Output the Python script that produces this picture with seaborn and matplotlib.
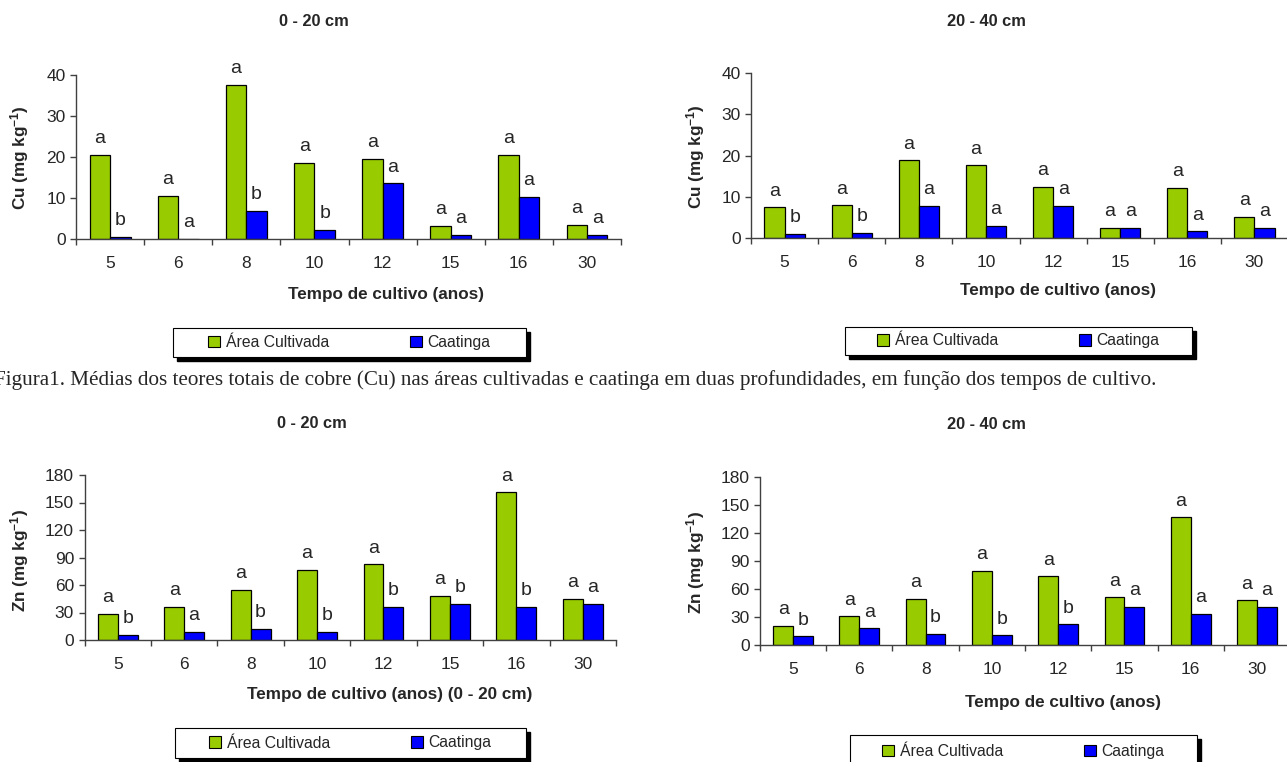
import numpy as np
import pandas as pd
import matplotlib
matplotlib.use("Agg")
import matplotlib.pyplot as plt
import seaborn as sns
from matplotlib.patches import Rectangle

# ── Data ──────────────────────────────────────────────────
years = ["5", "6", "8", "10", "12", "15", "16", "30"]
series_names = ["Área Cultivada", "Caatinga"]
colors = ["#99CC00", "#0000FF"]

cu_cult_0_20 = [20.6, 10.6, 37.7, 18.7, 19.6, 3.2, 20.6, 3.4]
cu_caat_0_20 = [0.6, 0.0, 6.8, 2.3, 13.6, 1.0, 10.3, 1.0]
cu_cult_let_0_20 = ["a", "a", "a", "a", "a", "a", "a", "a"]
cu_caat_let_0_20 = ["b", "a", "b", "b", "a", "a", "a", "a"]

cu_cult_20_40 = [7.4, 7.9, 18.8, 17.6, 12.4, 2.5, 12.1, 5.1]
cu_caat_20_40 = [1.0, 1.3, 7.7, 2.9, 7.7, 2.5, 1.6, 2.5]
cu_cult_let_20_40 = ["a", "a", "a", "a", "a", "a", "a", "a"]
cu_caat_let_20_40 = ["b", "b", "a", "a", "a", "a", "a", "a"]

zn_cult_0_20 = [28.8, 35.7, 54.7, 76.2, 82.4, 47.7, 161.1, 44.8]
zn_caat_0_20 = [5.8, 9.1, 12.0, 9.1, 36.1, 39.0, 36.1, 39.0]
zn_cult_let_0_20 = ["a", "a", "a", "a", "a", "a", "a", "a"]
zn_caat_let_0_20 = ["b", "a", "b", "b", "b", "b", "b", "a"]

zn_cult_20_40 = [20.3, 30.6, 49.2, 79.5, 73.4, 51.0, 136.8, 47.8]
zn_caat_20_40 = [9.3, 17.8, 11.8, 10.3, 22.1, 40.6, 33.5, 40.6]
zn_cult_let_20_40 = ["a", "a", "a", "a", "a", "a", "a", "a"]
zn_caat_let_20_40 = ["b", "a", "b", "b", "b", "a", "a", "a"]

cu_ticks = [0, 10, 20, 30, 40]
zn_ticks = [0, 30, 60, 90, 120, 150, 180]

caption = ("Figura1. Médias dos teores totais de cobre (Cu) nas áreas cultivadas e "
           "caatinga em duas profundidades, em função dos tempos de cultivo.")

# ── Style ─────────────────────────────────────────────────
sns.set_style("ticks")
plt.rcParams["font.family"] = ["Liberation Sans", "DejaVu Sans"]
plt.rcParams["mathtext.default"] = "regular"

W, H = 1287, 762
fig = plt.figure(figsize=(W / 100, H / 100), dpi=100)
fig.patch.set_facecolor("white")

AX_COL = "#404040"
TICK_FS = 12.5
LABEL_FS = 12.3
LETTER_FS = 14
LEGEND_FS = 11.3


def fx(x):
    return x / W


def fy(y):
    return 1 - y / H


def draw_panel(box, cult, caat, cult_let, caat_let, yticks, ylabel, ylabel_xy,
               title, title_xy, xlabel, xlabel_xy):
    x0, y0, x1, y1 = box   # pixel box: left, top, right, bottom
    ax = fig.add_axes([fx(x0), fy(y1), (x1 - x0) / W, (y1 - y0) / H])
    df = pd.DataFrame({
        "ano": years * 2,
        "valor": list(cult) + list(caat),
        "area": [series_names[0]] * len(years) + [series_names[1]] * len(years),
    })
    sns.barplot(data=df, x="ano", y="valor", hue="area", order=years,
                hue_order=series_names, palette=colors, saturation=1,
                width=0.6, edgecolor="black", linewidth=0.9, ax=ax)
    handles, labels = ax.get_legend_handles_labels()
    if ax.legend_ is not None:
        ax.legend_.remove()

    # significance letters above each bar
    for cont, lets in zip(ax.containers, [cult_let, caat_let]):
        for bar, let in zip(cont, lets):
            ax.annotate(let, (bar.get_x() + bar.get_width() / 2, bar.get_height()),
                        xytext=(0, 8.5), textcoords="offset points",
                        ha="center", va="baseline", fontsize=LETTER_FS, clip_on=False)

    ax.set_xlim(-0.5, len(years) - 0.5)
    ax.set_ylim(yticks[0], yticks[-1])
    ax.set_yticks(yticks)
    sns.despine(ax=ax)
    for s in ["left", "bottom"]:
        ax.spines[s].set_color(AX_COL)
        ax.spines[s].set_linewidth(1.0)
    ax.set_xticks(np.arange(-0.5, len(years), 1), minor=True)
    ax.tick_params(axis="x", which="major", length=0, pad=12.5, labelsize=TICK_FS)
    ax.tick_params(axis="x", which="minor", length=4, color=AX_COL, width=1.0)
    ax.tick_params(axis="y", length=4, pad=3.5, labelsize=TICK_FS, color=AX_COL, width=1.0)

    ax.set_ylabel(ylabel, fontsize=LABEL_FS, fontweight="bold")
    ax.yaxis.set_label_coords(fx(ylabel_xy[0]), fy(ylabel_xy[1]), transform=fig.transFigure)
    ax.set_xlabel(xlabel, fontsize=LABEL_FS, fontweight="bold")
    ax.xaxis.set_label_coords(fx(xlabel_xy[0]), fy(xlabel_xy[1]), transform=fig.transFigure)
    ax.xaxis.label.set_va("center")
    ax.yaxis.label.set_va("center")

    fig.text(fx(title_xy[0]), fy(title_xy[1]), title, ha="center", va="center",
             fontsize=11.8, fontweight="bold")
    return handles, labels


def draw_legend(handles, labels, box):
    x0, y0, x1, y1 = box
    # black drop shadow, then white box
    fig.patches.append(Rectangle((fx(x0 + 4), fy(y1 + 4)), (x1 - x0) / W, (y1 - y0) / H,
                                 transform=fig.transFigure, facecolor="black",
                                 edgecolor="black", zorder=1))
    fig.patches.append(Rectangle((fx(x0), fy(y1)), (x1 - x0) / W, (y1 - y0) / H,
                                 transform=fig.transFigure, facecolor="white",
                                 edgecolor="black", linewidth=0.8, zorder=2))
    for h in handles:
        h.set_edgecolor("black")
        h.set_linewidth(0.8)
    leg = fig.legend(handles, labels, loc="center",
                     bbox_to_anchor=(fx((x0 + x1) / 2), fy((y0 + y1) / 2)),
                     ncol=2, frameon=False, fontsize=LEGEND_FS, handlelength=0.75,
                     handleheight=0.75, handletextpad=0.35, columnspacing=5.2,
                     borderpad=0, borderaxespad=0)
    leg.set_zorder(3)


# ── 1. Cu 0-20 cm ─────────────────────────────────────────
h, l = draw_panel((76, 75.5, 621, 239), cu_cult_0_20, cu_caat_0_20,
                  cu_cult_let_0_20, cu_caat_let_0_20, cu_ticks,
                  "Cu (mg kg$^{-1}$)", (20, 158), "0 - 20 cm", (314, 22),
                  "Tempo de cultivo (anos)", (386, 295))
draw_legend(h, l, (173, 328, 526, 357))

# ── 2. Cu 20-40 cm ────────────────────────────────────────
h, l = draw_panel((751, 73, 1288, 238), cu_cult_20_40, cu_caat_20_40,
                  cu_cult_let_20_40, cu_caat_let_20_40, cu_ticks,
                  "Cu (mg kg$^{-1}$)", (696, 157), "20 - 40 cm", (986, 22),
                  "Tempo de cultivo (anos)", (1058, 290))
draw_legend(h, l, (845, 327, 1192, 355))

# ── 3. Zn 0-20 cm ─────────────────────────────────────────
h, l = draw_panel((84.5, 475, 616, 640), zn_cult_0_20, zn_caat_0_20,
                  zn_cult_let_0_20, zn_caat_let_0_20, zn_ticks,
                  "Zn (mg kg$^{-1}$)", (20, 561), "0 - 20 cm", (312, 423),
                  "Tempo de cultivo (anos) (0 - 20 cm)", (390, 695))
draw_legend(h, l, (175, 728, 526, 758))

# ── 4. Zn 20-40 cm ────────────────────────────────────────
h, l = draw_panel((760, 477, 1290, 645), zn_cult_20_40, zn_caat_20_40,
                  zn_cult_let_20_40, zn_caat_let_20_40, zn_ticks,
                  "Zn (mg kg$^{-1}$)", (696, 563), "20 - 40 cm", (986, 424),
                  "Tempo de cultivo (anos)", (1063, 702))
draw_legend(h, l, (850, 735, 1197, 768))

# ── Caption ──────────────────────────────────────────────
fig.text(fx(-6), fy(380), caption, ha="left", va="center", fontsize=15.2,
         family=["Liberation Serif", "DejaVu Serif"])

fig.savefig("out.png", dpi=100, facecolor="white")
